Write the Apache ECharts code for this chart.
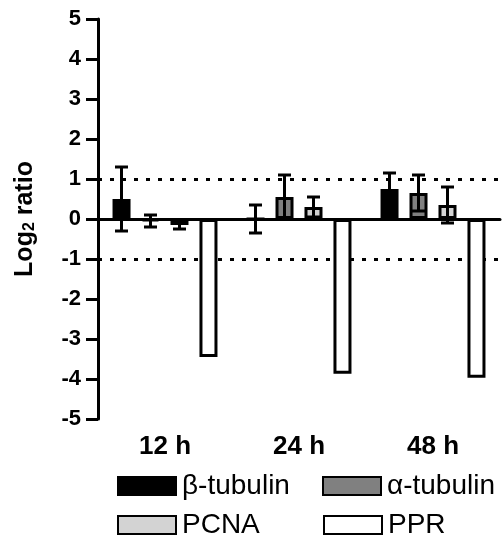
<!DOCTYPE html>
<html>
<head>
    <meta charset="utf-8">
    <script src="https://cdn.jsdelivr.net/npm/echarts@6/dist/echarts.min.js"></script>
</head>
<body style="margin:0">
    <div id="main" style="width:502px;height:541px;"></div>
    <script type="text/javascript">
    // values (log2 ratio, mean and error)
    var times = ['12 h', '24 h', '48 h'];
    var names = ['β-tubulin', 'α-tubulin', 'PCNA', 'PPR'];
    var betaTub = [0.5, 0.0, 0.75];
    var betaErr = [0.8, 0.35, 0.4];
    var alphaTub = [-0.05, 0.55, 0.65];
    var alphaErr = [0.15, 0.55, 0.45];
    var pcna = [-0.15, 0.3, 0.35];
    var pcnaErr = [0.1, 0.25, 0.45];
    var ppr = [-3.45, -3.87, -3.97];
    var pprErr = [0, 0, 0];
    var yTicks = [-5, -4, -3, -2, -1, 0, 1, 2, 3, 4, 5];

    var fills = ['#000000', '#808080', '#d3d3d3', '#ffffff'];
    var means = [betaTub, alphaTub, pcna, ppr];
    var errs = [betaErr, alphaErr, pcnaErr, pprErr];
    var offsets = [-43.5, -14.5, 14.5, 43.5];
    var font = 'Liberation Sans, Arial, sans-serif';

    function errorBars(offset) {
        return function (params, api) {
            var i = api.value(0), m = api.value(1), e = api.value(2);
            if (!e) return;
            var x = api.coord([i, 0])[0] + offset;
            var hi = api.coord([i, m + e])[1];
            var lo = api.coord([i, m - e])[1];
            var st = {stroke: '#000', lineWidth: 3};
            return {type: 'group', children: [
                {type: 'line', shape: {x1: x, y1: hi, x2: x, y2: lo}, style: st},
                {type: 'line', shape: {x1: x - 6.5, y1: hi, x2: x + 6.5, y2: hi}, style: st},
                {type: 'line', shape: {x1: x - 6.5, y1: lo, x2: x + 6.5, y2: lo}, style: st}
            ]};
        };
    }

    var series = [];
    names.forEach(function (n, k) {
        series.push({
            name: n,
            type: 'bar',
            data: means[k],
            barWidth: 18,
            barGap: '61%',
            itemStyle: {color: fills[k], borderColor: '#000', borderWidth: 3}
        });
    });
    names.forEach(function (n, k) {
        series.push({
            type: 'custom',
            z: 5,
            renderItem: errorBars(offsets[k]),
            data: means[k].map(function (v, i) { return [i, v, errs[k][i]]; })
        });
    });
    // dotted reference lines at +1 / -1, kept behind the bars
    series.push({
        type: 'line',
        data: [],
        markLine: {
            silent: true,
            symbol: 'none',
            z: 1,
            label: {show: false},
            lineStyle: {color: '#000', type: [4, 8], width: 3},
            data: [{yAxis: 1}, {yAxis: -1}]
        }
    });

    function legendAt(name, left, top) {
        return {
            data: [name], left: left, top: top, padding: 0,
            itemWidth: 58, itemHeight: 18, icon: 'rect',
            selectedMode: false,
            textStyle: {fontSize: 28, color: '#000', fontFamily: font, padding: [0, 0, 0, 1]}
        };
    }

    var myChart = echarts.init(document.getElementById('main'));
    myChart.setOption({
        animation: false,
        grid: {left: 98, right: 2, top: 19, bottom: 122},
        legend: [
            legendAt(names[0], 117, 472),
            legendAt(names[1], 322, 472),
            legendAt(names[2], 117, 511),
            legendAt(names[3], 323, 511)
        ],
        xAxis: [{
            type: 'category',
            data: times,
            position: 'bottom',
            axisLine: {onZero: true, lineStyle: {color: '#000', width: 3}},
            axisTick: {alignWithLabel: true, length: 14, lineStyle: {color: '#000', width: 3}},
            axisLabel: {show: false},
            splitLine: {show: false}
        }, {
            type: 'category',
            data: times,
            position: 'bottom',
            axisLine: {show: false, onZero: false},
            axisTick: {show: false},
            axisLabel: {margin: 15, fontSize: 26, fontWeight: 'bold', color: '#000', fontFamily: font},
            splitLine: {show: false}
        }],
        yAxis: {
            type: 'value',
            min: yTicks[0],
            max: yTicks[yTicks.length - 1],
            interval: 1,
            name: '{a|Log}{s|2}{a| ratio}',
            nameLocation: 'middle',
            nameGap: 60,
            nameTextStyle: {
                rich: {
                    a: {fontSize: 25, fontWeight: 'bold', color: '#000', fontFamily: font},
                    s: {fontSize: 16, fontWeight: 'bold', color: '#000', fontFamily: font, padding: [10, 0, 0, 0]}
                }
            },
            axisLine: {show: true, lineStyle: {color: '#000', width: 3}},
            axisTick: {show: true, length: 12, lineStyle: {color: '#000', width: 3}},
            axisLabel: {margin: 17, fontSize: 22, fontWeight: 'bold', color: '#000', fontFamily: font},
            splitLine: {show: false}
        },
        series: series
    });
    </script>
</body>
</html>
